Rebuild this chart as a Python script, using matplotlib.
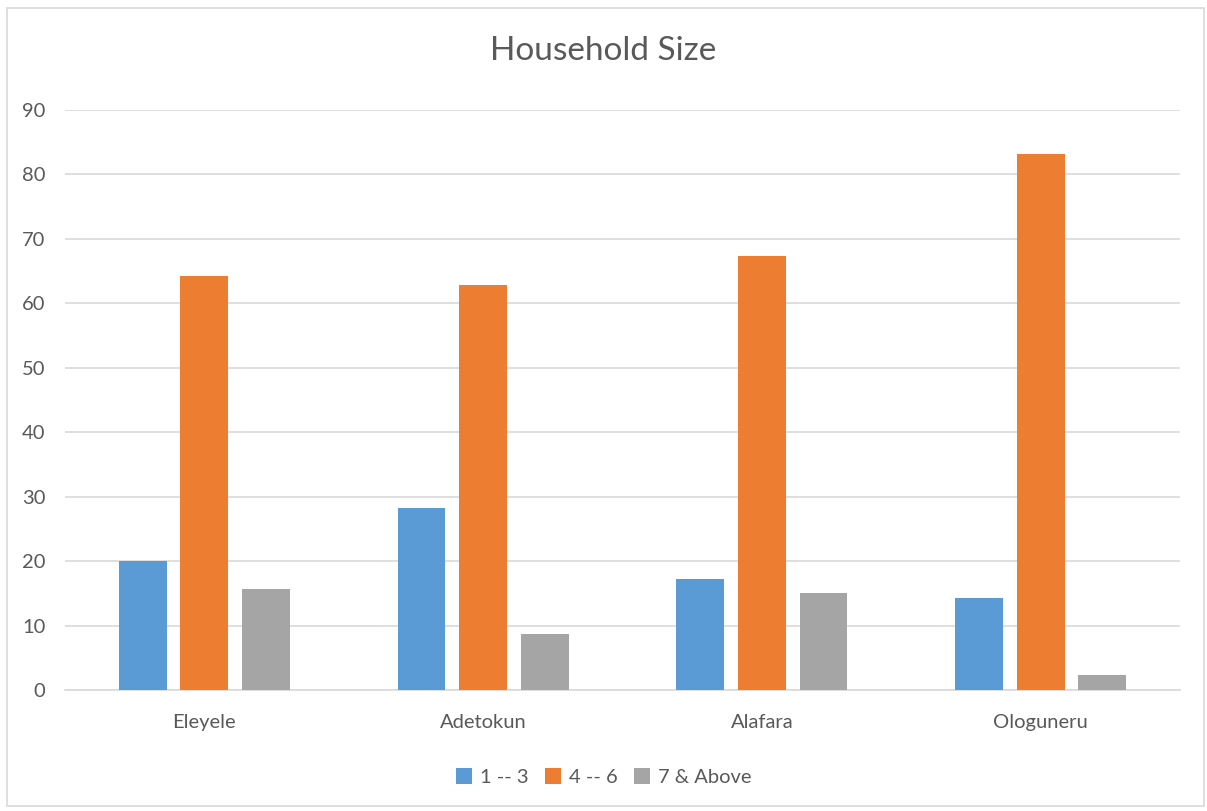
import matplotlib
matplotlib.use("Agg")
import matplotlib.pyplot as plt
import numpy as np
from matplotlib.patches import Rectangle

categories = ["Eleyele", "Adetokun", "Alafara", "Ologuneru"]
series_names = ["1 -- 3", "4 -- 6", "7 & Above"]
s1 = [20.0, 28.3, 17.3, 14.2]
s2 = [64.3, 62.8, 67.4, 83.2]
s3 = [15.6, 8.7, 15.1, 2.3]
yticks = [0, 10, 20, 30, 40, 50, 60, 70, 80, 90]
colors = ["#5B9BD5", "#ED7D31", "#A5A5A5"]

plt.rcParams['font.family'] = ['Lato', 'DejaVu Sans']
txt = "#595959"

fig = plt.figure(figsize=(12.07, 8.11), dpi=100)
fig.patch.set_facecolor("white")
fig.add_artist(Rectangle((7/1207, 1 - 806/811), (1204-7)/1207, (806-8)/811,
                         transform=fig.transFigure, fill=False,
                         edgecolor="#D9D9D9", linewidth=1.2))

ax = fig.add_axes([65/1207, 1 - 690/811, (1180-65)/1207, (690-110)/811])
x = np.arange(len(categories))
width = 0.172
step = 0.221
for i, (vals, c, name) in enumerate(zip([s1, s2, s3], colors, series_names)):
    ax.bar(x + (i - 1) * step, vals, width, color=c, label=name, zorder=3)

ax.set_xlim(-0.5, len(categories) - 0.5)
ax.set_ylim(0, 90)
ax.set_yticks(yticks)
ax.set_yticklabels([str(v) for v in yticks], fontsize=14.5, color=txt)
ax.set_xticks(x)
ax.set_xticklabels(categories, fontsize=14.5, color=txt)
ax.tick_params(axis='both', length=0)
ax.tick_params(axis='y', pad=14)
ax.tick_params(axis='x', pad=17)
ax.grid(axis='y', color="#D9D9D9", linewidth=1.2, zorder=0)
for s in ["top", "right", "left"]:
    ax.spines[s].set_visible(False)
ax.spines["bottom"].set_color("#D9D9D9")
ax.spines["bottom"].set_linewidth(1.2)

fig.text(0.5, 1 - 51/811, "Household Size", ha="center", va="center",
         fontsize=24, color=txt)

fig.legend(loc="center", bbox_to_anchor=(0.5, 1 - 777/811), ncol=3,
           frameon=False, fontsize=14.5, labelcolor=txt, handlelength=0.8,
           handleheight=0.8, handletextpad=0.4, columnspacing=0.8)

fig.savefig("out.png", dpi=100)
